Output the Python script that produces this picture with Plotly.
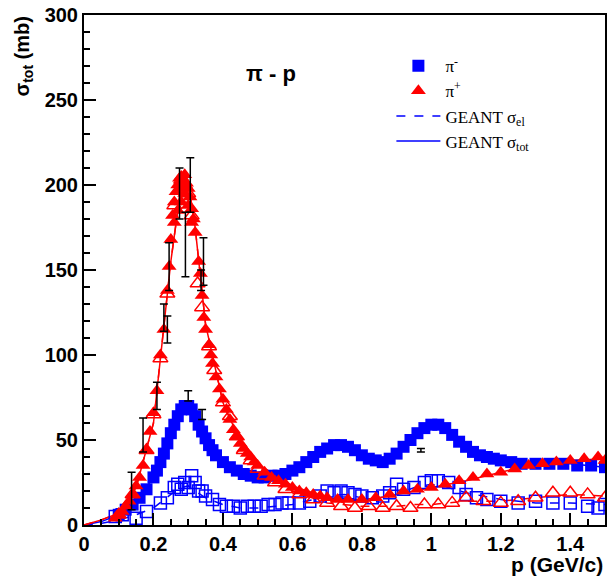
import plotly.graph_objects as go

# ---------------- data ----------------
# pi- p total cross section (filled blue squares)
pim_tot_p = [0.10, 0.12, 0.14, 0.16, 0.18, 0.20, 0.21, 0.22, 0.23, 0.24, 0.25, 0.26, 0.27, 0.28, 0.29,
             0.30, 0.31, 0.32, 0.33, 0.34, 0.35, 0.36, 0.37, 0.38, 0.40, 0.42, 0.44, 0.46, 0.48, 0.50,
             0.52, 0.54, 0.56, 0.58, 0.60, 0.62, 0.64, 0.66, 0.68, 0.70, 0.72, 0.74, 0.76, 0.78, 0.80,
             0.82, 0.84, 0.86, 0.88, 0.90, 0.92, 0.94, 0.96, 0.98, 1.00, 1.02, 1.04, 1.06, 1.08, 1.10,
             1.12, 1.14, 1.16, 1.18, 1.20, 1.23, 1.26, 1.30, 1.34, 1.38, 1.42, 1.46, 1.50]
pim_tot_s = [6, 9, 12, 16, 21, 28, 32, 37, 42, 48, 54, 59, 64, 68, 70,
             70, 68, 64, 59, 55, 51, 47, 44, 41, 37, 34, 32, 30, 29, 28,
             28, 29, 29, 30, 32, 34, 37, 40, 43, 45, 47, 47, 46, 44, 41,
             39, 38, 37, 39, 42, 46, 50, 54, 57, 59, 59, 57, 53, 49, 46,
             43, 41, 40, 39, 38, 37, 36, 36, 36, 36, 35, 35, 34]

# pi- p elastic cross section (open blue squares)
pim_el_p = [0.09, 0.11, 0.15, 0.18, 0.22, 0.24, 0.26, 0.27, 0.28, 0.29, 0.30, 0.31, 0.32, 0.33, 0.34,
            0.35, 0.37, 0.39, 0.41, 0.43, 0.45, 0.47, 0.49, 0.51, 0.53, 0.55, 0.57, 0.59, 0.62, 0.65,
            0.68, 0.70, 0.72, 0.74, 0.76, 0.78, 0.80, 0.83, 0.86, 0.88, 0.90, 0.92, 0.95, 0.98, 1.00,
            1.02, 1.05, 1.08, 1.10, 1.13, 1.16, 1.20, 1.25, 1.30, 1.35, 1.40, 1.45, 1.48, 1.50]
pim_el_s = [5, 6, 4, 8, 13, 16, 22, 24, 21, 25, 22, 29, 25, 20, 20,
            17, 15, 12, 11, 11, 10, 11, 11, 11, 12, 12, 13, 13, 13, 14,
            17, 20, 19, 20, 19, 18, 17, 16, 17, 19, 24, 21, 22, 25, 26,
            26, 25, 22, 18, 16, 15, 14, 13, 14, 13, 13, 11, 10, 12]

# pi+ p total cross section (filled red triangles)
pip_tot_p = [0.09, 0.10, 0.11, 0.12, 0.13, 0.14, 0.15, 0.16, 0.17, 0.18, 0.19, 0.20, 0.21, 0.22, 0.23,
             0.24, 0.245, 0.25, 0.255, 0.26, 0.265, 0.27, 0.275, 0.28, 0.285, 0.29, 0.295, 0.30, 0.305,
             0.31, 0.315, 0.32, 0.33, 0.335, 0.34, 0.345, 0.35, 0.36, 0.365, 0.37, 0.38, 0.39, 0.40,
             0.41, 0.42, 0.43, 0.44, 0.45, 0.46, 0.47, 0.48, 0.49, 0.50, 0.52, 0.54, 0.56, 0.58, 0.60,
             0.62, 0.64, 0.66, 0.68, 0.70, 0.73, 0.76, 0.80, 0.84, 0.88, 0.92, 0.96, 1.00, 1.04, 1.08,
             1.12, 1.16, 1.20, 1.24, 1.28, 1.32, 1.36, 1.40, 1.44, 1.48, 1.50,
             0.26, 0.27, 0.28, 0.29, 0.30, 0.285, 0.31]
pip_tot_s = [4, 6, 8, 11, 14, 18, 23, 28, 35, 44, 55, 66, 79, 100, 115,
             138, 152, 168, 182, 190, 196, 200, 204, 205, 203, 206, 201, 198, 193,
             186, 180, 172, 155, 148, 135, 122, 115, 106, 100, 95, 87, 80, 74,
             68, 62, 56, 52, 48, 45, 42, 40, 37, 35, 31, 28, 26, 24, 22,
             20, 19, 18, 17, 16, 15, 15, 15, 16, 18, 20, 21, 22, 24, 26,
             28, 30, 31, 33, 35, 36, 37, 38, 39, 40, 38,
             178, 185, 190, 195, 188, 198, 178]

# pi+ p elastic cross section (open red triangles)
pip_el_p = [0.10, 0.14, 0.18, 0.20, 0.22, 0.24, 0.26, 0.28, 0.29, 0.30, 0.31, 0.327, 0.34, 0.36, 0.375,
            0.40, 0.42, 0.44, 0.46, 0.48, 0.50, 0.52, 0.55, 0.58, 0.62, 0.66, 0.70, 0.74, 0.78, 0.82,
            0.86, 0.90, 0.94, 0.98, 1.02, 1.06, 1.10, 1.15, 1.20, 1.25, 1.30, 1.35, 1.40, 1.45, 1.50]
pip_el_s = [6, 18, 44, 65, 98, 136, 188, 203, 200, 195, 182, 142, 128, 105, 91,
            72, 64, 52, 44, 38, 33, 29, 25, 21, 18, 15, 13, 11, 10, 11,
            10, 11, 10, 12, 12, 13, 16, 14, 13, 14, 16, 19, 19, 18, 16]

# GEANT curves
geant_p = [0.0, 0.05, 0.10, 0.15, 0.20, 0.25, 0.28, 0.30, 0.32, 0.35, 0.40, 0.45, 0.50, 0.60, 0.70,
           0.75, 0.80, 0.85, 0.90, 0.95, 1.00, 1.05, 1.10, 1.20, 1.30, 1.40, 1.50]
geant_pim_tot = [0, 2, 6, 14, 28, 52, 68, 70, 64, 50, 37, 31, 28, 31, 44,
                 47, 42, 38, 41, 51, 58, 56, 47, 38, 36, 36, 34]
geant_pim_el = [0, 1, 3, 6, 10, 18, 22, 23, 20, 16, 12, 10, 10, 12, 17,
                18, 16, 16, 18, 22, 24, 22, 19, 15, 13, 13, 12]
geant_pip_tot = [0, 3, 7, 22, 60, 155, 200, 202, 175, 118, 72, 49, 36, 23, 16,
                 15, 15, 16, 18, 20, 22, 24, 26, 31, 36, 38, 39]
geant_pip_el = [0, 3, 7, 22, 60, 155, 200, 202, 175, 118, 72, 48, 34, 20, 13,
                12, 11, 11, 11, 12, 12, 13, 14, 14, 16, 18, 17]

# error bars on selected points
err_p = [0.137, 0.170, 0.210, 0.230, 0.240, 0.245, 0.275, 0.292, 0.306, 0.337, 0.344, 0.300, 0.340, 0.970]
err_s = [20, 53, 76, 122, 115, 152, 195, 165, 200, 144, 155, 76, 65, 44]
err_d = [11, 10, 8, 8, 8, 14, 15, 19, 16, 6, 14, 3, 3, 1]

x_ticks = [0, 0.2, 0.4, 0.6, 0.8, 1, 1.2, 1.4]
x_ticklabels = ["0", "0.2", "0.4", "0.6", "0.8", "1", "1.2", "1.4"]
y_ticks = [0, 50, 100, 150, 200, 250, 300]

BLUE = "#0000ff"
RED = "#ff0000"
SANS = "Liberation Sans"
SERIF = "Liberation Serif"

fig = go.Figure()

# GEANT lines (drawn under markers)
fig.add_trace(go.Scatter(x=geant_p, y=geant_pim_el, mode="lines", line=dict(color=BLUE, width=1.5, dash="dash"),
                         name="GEANT σ<sub>el</sub>", legendgroup="g3", legendrank=3))
fig.add_trace(go.Scatter(x=geant_p, y=geant_pim_tot, mode="lines", line=dict(color=BLUE, width=1.5),
                         name="GEANT σ<sub>tot</sub>", legendgroup="g4", legendrank=4))
fig.add_trace(go.Scatter(x=geant_p, y=geant_pip_el, mode="lines", line=dict(color=RED, width=1.5, dash="dash"),
                         showlegend=False))
fig.add_trace(go.Scatter(x=geant_p, y=geant_pip_tot, mode="lines", line=dict(color=RED, width=1.5),
                         showlegend=False))

fig.add_trace(go.Scatter(x=pim_tot_p, y=pim_tot_s, mode="markers",
                         marker=dict(symbol="square", size=12, color=BLUE),
                         name="π<sup>-</sup>", legendgroup="g1", legendrank=1))
fig.add_trace(go.Scatter(x=pim_el_p, y=pim_el_s, mode="markers",
                         marker=dict(symbol="square-open", size=12, color=BLUE, line=dict(width=1.5)),
                         showlegend=False))
fig.add_trace(go.Scatter(x=pip_tot_p, y=pip_tot_s, mode="markers",
                         marker=dict(symbol="triangle-up", size=13, color=RED),
                         name="π<sup>+</sup>", legendgroup="g2", legendrank=2))
fig.add_trace(go.Scatter(x=pip_el_p, y=pip_el_s, mode="markers",
                         marker=dict(symbol="triangle-up-open", size=13, color=RED, line=dict(width=1.5)),
                         showlegend=False))
fig.add_trace(go.Scatter(x=err_p, y=err_s, mode="markers", marker=dict(size=1, color="rgba(0,0,0,0)"),
                         error_y=dict(type="data", array=err_d, color="black", thickness=1.5, width=4),
                         showlegend=False))

fig.update_layout(
    width=610, height=577,
    margin=dict(l=84, r=3, t=15, b=52),
    paper_bgcolor="white", plot_bgcolor="white",
    showlegend=True,
    legend=dict(x=0.59, y=0.935, xanchor="left", yanchor="top", bgcolor="rgba(0,0,0,0)",
                font=dict(family=SERIF, size=17, color="black"),
                traceorder="grouped", tracegroupgap=0, itemwidth=44),
    annotations=[
        dict(text="<b>π - p</b>", x=(272 - 84) / 523, y=(525 - 73) / 510, xref="paper", yref="paper",
             xanchor="center", yanchor="middle",
             showarrow=False, font=dict(family=SANS, size=22, color="black")),
        dict(text="<b>σ<sub>tot</sub> (mb)</b>", x=-0.118, y=1.0, xref="paper", yref="paper",
             xanchor="center", yanchor="top", textangle=-90, showarrow=False,
             font=dict(family=SANS, size=20, color="black")),
        dict(text="<b>p (GeV/c)</b>", x=1.0, y=-0.077, xref="paper", yref="paper",
             xanchor="right", yanchor="middle", showarrow=False,
             font=dict(family=SANS, size=21, color="black")),
    ],
)

fig.update_xaxes(range=[0, 1.5], tickvals=x_ticks, ticktext=x_ticklabels,
                 ticks="inside", ticklen=12, tickwidth=1.5, tickcolor="black",
                 minor=dict(dtick=0.05, ticks="inside", ticklen=6, tickwidth=1.5, tickcolor="black"),
                 showline=True, linecolor="black", linewidth=2, mirror=True,
                 showgrid=False, zeroline=False,
                 tickfont=dict(family=SANS, size=20, color="black", weight="bold"))
fig.update_yaxes(range=[0, 300], tickvals=y_ticks,
                 ticks="inside", ticklen=12, tickwidth=1.5, tickcolor="black",
                 minor=dict(dtick=10, ticks="inside", ticklen=6, tickwidth=1.5, tickcolor="black"),
                 showline=True, linecolor="black", linewidth=2, mirror=True,
                 showgrid=False, zeroline=False,
                 tickfont=dict(family=SANS, size=20, color="black", weight="bold"))

fig.write_html("out.html")
